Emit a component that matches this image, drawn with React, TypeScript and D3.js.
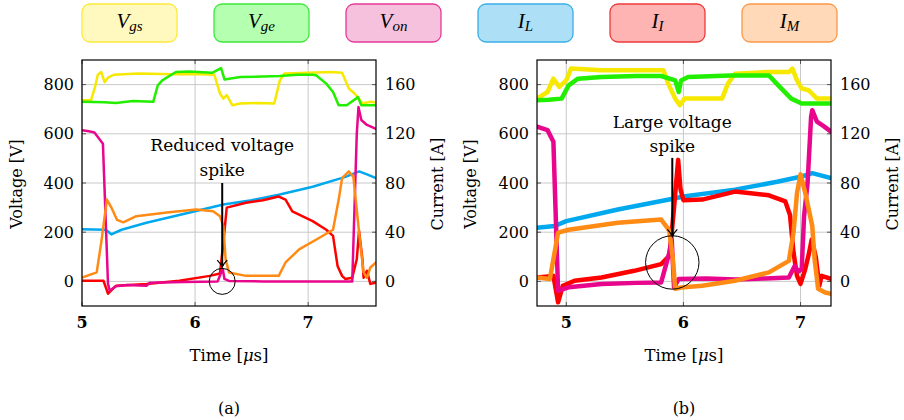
import React from "react";
import * as d3 from "d3";

type Pt = [number, number];

// ---------- Panel (a) ----------
const vgsA: Pt[] = [[5.0,736],[5.08,737],[5.115,790],[5.14,840],[5.17,851],[5.2,810],[5.23,828],[5.28,840],[5.5,845],[5.8,842],[6.0,843],[6.17,840],[6.22,764],[6.25,743],[6.28,757],[6.33,716],[6.4,723],[6.55,725],[6.7,723],[6.75,817],[6.79,845],[7.0,848],[7.2,851],[7.3,848],[7.36,784],[7.41,764],[7.45,743],[7.48,723],[7.55,730],[7.6,727]];
const vgeA: Pt[] = [[5.0,730],[5.2,728],[5.3,725],[5.45,733],[5.63,730],[5.67,797],[5.71,817],[5.83,851],[5.95,853],[6.15,848],[6.23,867],[6.26,821],[6.4,831],[6.6,833],[6.75,835],[6.9,840],[7.04,840],[7.07,838],[7.16,804],[7.22,770],[7.27,716],[7.34,716],[7.43,745],[7.44,750],[7.47,716],[7.6,716]];
const vonA: Pt[] = [[5.0,615],[5.06,610],[5.11,605],[5.16,575],[5.185,560],[5.23,-10],[5.245,-38],[5.3,-20],[5.4,-15],[5.57,-18],[5.6,-5],[5.9,-2],[6.2,0],[6.23,35],[6.245,50],[6.26,10],[6.3,2],[6.6,0],[7.0,0],[7.39,0],[7.43,600],[7.445,709],[7.47,656],[7.52,636],[7.6,620]];
const ilA: Pt[] = [[5.0,42.3],[5.2,42],[5.23,40.6],[5.26,38.2],[5.35,42],[5.57,47.7],[6.0,57],[6.25,62.5],[6.5,66],[6.74,70.5],[7.04,77],[7.33,85],[7.45,89.4],[7.52,87],[7.6,84]];
const iiA: Pt[] = [[5.0,0.5],[5.19,0.5],[5.23,-10],[5.27,-6.2],[5.3,-3.6],[5.57,-2.2],[5.86,0.5],[6.13,4.5],[6.22,6.4],[6.25,31.5],[6.28,60],[6.45,64],[6.6,66],[6.74,69],[6.8,66.5],[6.86,57],[7.04,49],[7.16,42],[7.22,37],[7.26,12.6],[7.3,4.5],[7.33,1.9],[7.39,3],[7.43,18],[7.45,41],[7.48,18],[7.49,3],[7.52,8.6],[7.55,-2],[7.6,-1]];
const imA: Pt[] = [[5.0,3.2],[5.13,7.3],[5.17,31.5],[5.22,66.5],[5.26,60],[5.31,50],[5.365,48],[5.48,53],[5.75,56],[6.01,58.4],[6.16,57],[6.22,53],[6.25,45],[6.27,18],[6.3,7.3],[6.45,4.5],[6.74,4.5],[6.8,15.4],[6.92,26],[7.1,35.5],[7.22,42],[7.27,66.5],[7.3,84],[7.36,89.4],[7.4,85],[7.43,58],[7.46,31.5],[7.49,7.3],[7.52,3],[7.55,11.3],[7.6,15.4]];

// ---------- Panel (b) ----------
const vgsB: Pt[] = [[4.75,743],[4.84,770],[4.89,824],[4.94,791],[5.0,817],[5.04,865],[5.3,858],[5.6,858],[5.83,858],[5.87,804],[5.93,743],[5.97,716],[6.01,743],[6.2,743],[6.33,743],[6.38,804],[6.44,844],[6.7,851],[6.9,851],[6.93,865],[6.97,817],[7.01,784],[7.07,777],[7.14,743],[7.26,743]];
const vgeB: Pt[] = [[4.75,736],[4.85,738],[4.96,743],[5.02,797],[5.1,824],[5.3,831],[5.6,835],[5.81,835],[5.93,817],[5.96,770],[5.98,817],[6.04,831],[6.4,837],[6.73,837],[6.81,797],[6.92,743],[7.01,723],[7.26,723]];
const vonB: Pt[] = [[4.75,629],[4.84,615],[4.89,568],[4.93,-38],[5.02,-24],[5.3,-11],[5.6,-6],[5.81,-4],[5.88,117],[5.9,171],[5.92,-24],[5.96,10],[6.2,12],[6.44,8],[6.7,12],[6.9,16],[6.95,63],[6.98,40],[7.01,50],[7.03,265],[7.06,400],[7.09,669],[7.1,696],[7.14,649],[7.2,630],[7.26,609]];
const ilB: Pt[] = [[4.75,43.6],[4.9,45],[5.0,49],[5.44,58.4],[5.9,67],[6.0,69],[6.44,74.6],[6.8,81],[7.01,85.3],[7.1,88],[7.18,86],[7.26,84]];
const iiB: Pt[] = [[4.75,3.2],[4.89,4.5],[4.93,-17],[4.97,-3.6],[5.07,0.5],[5.3,3.2],[5.58,8.6],[5.81,14],[5.88,20.7],[5.9,39.6],[5.92,60],[5.955,98.8],[5.975,75],[6.0,66],[6.16,66.5],[6.44,73],[6.73,70],[6.87,65],[6.91,54],[6.94,23.4],[6.97,4.5],[7.0,-2],[7.04,10],[7.07,22],[7.095,34],[7.13,20],[7.16,-3.6],[7.18,4.5],[7.26,2]];
const imB: Pt[] = [[4.75,3.2],[4.86,2],[4.89,18],[4.93,39.6],[5.02,42],[5.44,47.7],[5.81,50.3],[5.86,44],[5.88,41],[5.91,18],[5.93,-6],[5.98,-5],[6.16,-3.6],[6.44,0.5],[6.73,7.3],[6.9,16.7],[6.94,40],[6.97,72],[7.0,87],[7.04,72],[7.1,45],[7.12,18],[7.15,-6],[7.21,-9],[7.26,-10]];

const xTicks = [5, 6, 7];
const vTicks = [0, 200, 400, 600, 800];
const iTicks = [0, 40, 80, 120, 160];

const legendNames = [["V", "gs"], ["V", "ge"], ["V", "on"], ["I", "L"], ["I", "I"], ["I", "M"]];
const lineColors = ["#f7e800", "#22ee00", "#e8078c", "#00a8ee", "#ff0000", "#ff8a14"];
const fillColors = ["#fff9bf", "#b5ffb0", "#f6c1dc", "#ade0f7", "#ffb4b4", "#ffd9b8"];
const strokeColors = ["#fde93a", "#3ee83a", "#e53a98", "#3aaee8", "#ee3a3a", "#fc9848"];

const FONT = "DejaVu Serif";
const MATH = "Liberation Serif";

const yV = d3.scaleLinear().domain([-100, 900]).range([306, 60]);
const yI = d3.scaleLinear().domain([-20, 180]).range([306, 60]);

interface PanelDef {
  id: string;
  x0: number;
  x1: number;
  domain: [number, number];
  label: string;
  volt: Pt[][];
  cur: Pt[][];
  width: number;
  note: string[];
  noteT: number;
  noteV: [number, number];
  arrowV: [number, number];
  circle: [number, number, number];
  vLabX: number;
  cLabX: number;
}

const panels: PanelDef[] = [
  {
    id: "a", x0: 82, x1: 376, domain: [5, 7.6], label: "(a)",
    volt: [vgsA, vgeA, vonA], cur: [ilA, iiA, imA], width: 2.5,
    note: ["Reduced voltage", "spike"], noteT: 6.24, noteV: [555, 454],
    arrowV: [400, 58], circle: [6.24, 0, 13], vLabX: 16, cLabX: 437,
  },
  {
    id: "b", x0: 537, x1: 831, domain: [4.75, 7.26], label: "(b)",
    volt: [vgsB, vgeB, vonB], cur: [ilB, iiB, imB], width: 4.5,
    note: ["Large voltage", "spike"], noteT: 5.905, noteV: [648, 550],
    arrowV: [502, 183], circle: [5.905, 77, 26.7], vLabX: 470, cLabX: 892,
  },
];

function Panel({ p }: { p: PanelDef }) {
  const x = d3.scaleLinear().domain(p.domain).range([p.x0, p.x1]);
  const lineV = d3.line<Pt>().x((d) => x(d[0])).y((d) => yV(d[1]));
  const lineI = d3.line<Pt>().x((d) => x(d[0])).y((d) => yI(d[1]));
  const top = 60, bottom = 306;
  const cx = (p.x0 + p.x1) / 2;
  const order: [Pt[], string, boolean][] = [
    [p.volt[0], lineColors[0], true],
    [p.volt[1], lineColors[1], true],
    [p.cur[0], lineColors[3], false],
    [p.cur[1], lineColors[4], false],
    [p.volt[2], lineColors[2], true],
    [p.cur[2], lineColors[5], false],
  ];
  const ax = x(p.noteT);
  const ay0 = yV(p.arrowV[0]);
  const ay1 = yV(p.arrowV[1]);
  return (
    <g>
      <defs>
        <clipPath id={"clip" + p.id}>
          <rect x={p.x0} y={top} width={p.x1 - p.x0} height={bottom - top} />
        </clipPath>
      </defs>
      {xTicks.map((t) => (
        <line key={"gx" + t} x1={x(t)} x2={x(t)} y1={top} y2={bottom} stroke="#c9c9c9" strokeWidth={1} />
      ))}
      {vTicks.map((v) => (
        <line key={"gy" + v} x1={p.x0} x2={p.x1} y1={yV(v)} y2={yV(v)} stroke="#c9c9c9" strokeWidth={1} />
      ))}
      {xTicks.map((t) => (
        <g key={"tx" + t} stroke="#555" strokeWidth={1}>
          <line x1={x(t)} x2={x(t)} y1={bottom} y2={bottom - 4} />
          <line x1={x(t)} x2={x(t)} y1={top} y2={top + 4} />
        </g>
      ))}
      {vTicks.map((v) => (
        <g key={"ty" + v} stroke="#555" strokeWidth={1}>
          <line x1={p.x0} x2={p.x0 + 4} y1={yV(v)} y2={yV(v)} />
          <line x1={p.x1} x2={p.x1 - 4} y1={yV(v)} y2={yV(v)} />
        </g>
      ))}
      <g clipPath={`url(#clip${p.id})`}>
        {order.map(([data, col, isV], i) => (
          <path
            key={i}
            d={(isV ? lineV : lineI)(data) || ""}
            fill="none"
            stroke={col}
            strokeWidth={p.width}
            strokeLinejoin="round"
            strokeLinecap="round"
          />
        ))}
      </g>
      <rect x={p.x0} y={top} width={p.x1 - p.x0} height={bottom - top} fill="none" stroke="#000" strokeWidth={1.2} />
      <text x={ax} y={yV(p.noteV[0])} textAnchor="middle" dominantBaseline="central" fontSize={17} fontFamily={FONT}>{p.note[0]}</text>
      <text x={ax} y={yV(p.noteV[1])} textAnchor="middle" dominantBaseline="central" fontSize={17} fontFamily={FONT}>{p.note[1]}</text>
      <line x1={ax} x2={ax} y1={ay0} y2={ay1 - 1} stroke="#000" strokeWidth={2} />
      <path d={`M${ax - 5},${ay1 - 7} Q${ax - 1},${ay1 - 3} ${ax},${ay1} Q${ax + 1},${ay1 - 3} ${ax + 5},${ay1 - 7}`} fill="none" stroke="#000" strokeWidth={1.3} />
      <circle cx={x(p.circle[0])} cy={yV(p.circle[1])} r={p.circle[2]} fill="none" stroke="#000" strokeWidth={1} />
      {xTicks.map((t) => (
        <text key={"lx" + t} x={x(t)} y={322} textAnchor="middle" dominantBaseline="central" fontSize={16} fontWeight="bold" fontFamily={FONT}>{t}</text>
      ))}
      {vTicks.map((v) => (
        <text key={"lv" + v} x={p.x0 - 8} y={yV(v)} textAnchor="end" dominantBaseline="central" fontSize={16} fontFamily={FONT}>{v}</text>
      ))}
      {iTicks.map((c) => (
        <text key={"li" + c} x={p.x1 + 9} y={yI(c)} textAnchor="start" dominantBaseline="central" fontSize={16} fontFamily={FONT}>{c}</text>
      ))}
      <text x={cx} y={355} textAnchor="middle" dominantBaseline="central" fontSize={16.5} fontFamily={FONT}>
        Time [<tspan fontStyle="italic">μ</tspan>s]
      </text>
      <text transform={`translate(${p.vLabX},184) rotate(-90)`} textAnchor="middle" dominantBaseline="central" fontSize={16} fontFamily={FONT}>Voltage [V]</text>
      <text transform={`translate(${p.cLabX},184) rotate(-90)`} textAnchor="middle" dominantBaseline="central" fontSize={16} fontFamily={FONT}>Current [A]</text>
      <text x={cx} y={408} textAnchor="middle" dominantBaseline="central" fontSize={16} fontFamily={FONT}>{p.label}</text>
    </g>
  );
}

function Legend() {
  const bx = d3.scaleLinear().domain([0, 5]).range([82, 742]);
  return (
    <g>
      {legendNames.map(([main, sub], i) => (
        <g key={i}>
          <rect x={bx(i)} y={4} width={95} height={38} rx={8} ry={8} fill={fillColors[i]} stroke={strokeColors[i]} strokeWidth={1.3} />
          <text x={bx(i) + 47.5} y={28} textAnchor="middle" fontFamily={MATH} fontStyle="italic" fontSize={21}>
            {main}
            <tspan fontSize={15} dy={3}>{sub}</tspan>
          </text>
        </g>
      ))}
    </g>
  );
}

export default function App() {
  return (
    <svg width={904} height={420} style={{ position: "absolute", left: 0, top: 0, background: "#fff" }}>
      <rect width={904} height={420} fill="#fff" />
      <Legend />
      {panels.map((p) => (
        <Panel key={p.id} p={p} />
      ))}
    </svg>
  );
}
